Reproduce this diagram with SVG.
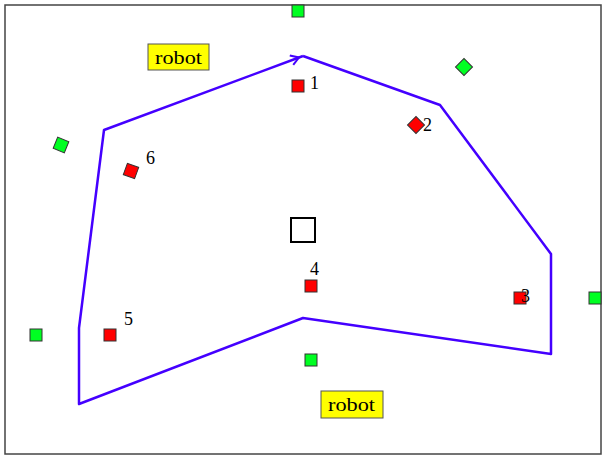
<svg xmlns="http://www.w3.org/2000/svg" width="607" height="460" viewBox="0 0 607 460">
<style>
.lm{fill:#00ff22;stroke:#333;stroke-width:1}
.rd{fill:#ff0000;stroke:#333;stroke-width:1}
.lb{font-family:"Liberation Serif",serif;font-size:18px;fill:#000}
.rt{font-family:"Liberation Serif",serif;font-size:19px;fill:#000}
.rb{fill:#ffff00;stroke:#555;stroke-width:1}
</style>
<defs>
<marker id="ah" markerWidth="12" markerHeight="12" refX="10" refY="6" orient="auto" markerUnits="userSpaceOnUse">
<path d="M2,1 L10,6 L2,11" fill="none" stroke="#4400ff" stroke-width="2"/>
</marker>
</defs>
<rect x="5" y="5" width="596" height="449" fill="#fff" stroke="#444" stroke-width="1.5"/>
<g id="connectors">
<path d="M303,56 L440,105 L551,254 L551,354 L303,318 L79,404 L79,328 L104,130 L303,56" fill="none" stroke="#4400ff" stroke-width="2.5" stroke-linejoin="round"/>
<path d="M104,130 L299,57.5" fill="none" stroke="none" marker-end="url(#ah)"/>
</g>
<g id="landmarks">
<rect class="lm" x="292" y="5" width="12" height="12"/>
<rect class="lm" x="-6" y="-6" width="12" height="12" transform="translate(464,67) rotate(45)"/>
<rect class="lm" x="-6" y="-6" width="12" height="12" transform="translate(61,145) rotate(22)"/>
<rect class="lm" x="30" y="329" width="12" height="12"/>
<rect class="lm" x="589" y="292" width="12" height="12"/>
<rect class="lm" x="305" y="354" width="12" height="12"/>
</g>
<g id="node1"><rect class="rd" x="292" y="80" width="12" height="12"/><text class="lb" x="310" y="89">1</text></g>
<g id="node2"><rect class="rd" x="-6" y="-6" width="12" height="12" transform="translate(416,125) rotate(45)"/><text class="lb" x="423" y="131">2</text></g>
<g id="node3"><rect class="rd" x="514" y="292" width="12" height="12"/><text class="lb" x="521" y="302">3</text></g>
<g id="node4"><rect class="rd" x="305" y="280" width="12" height="12"/><text class="lb" x="310" y="275">4</text></g>
<g id="node5"><rect class="rd" x="104" y="329" width="12" height="12"/><text class="lb" x="124" y="325">5</text></g>
<g id="node6"><rect class="rd" x="-6" y="-6" width="12" height="12" transform="translate(131,171) rotate(20)"/><text class="lb" x="146" y="164">6</text></g>
<g id="center"><rect x="291" y="218" width="24" height="24" fill="none" stroke="#000" stroke-width="2"/></g>
<g id="robot1"><rect class="rb" x="148" y="44" width="61" height="26"/><text class="rt" x="155" y="64" textLength="47" lengthAdjust="spacingAndGlyphs">robot</text></g>
<g id="robot2"><rect class="rb" x="321" y="391" width="62" height="27"/><text class="rt" x="328" y="411" textLength="47" lengthAdjust="spacingAndGlyphs">robot</text></g>
</svg>
